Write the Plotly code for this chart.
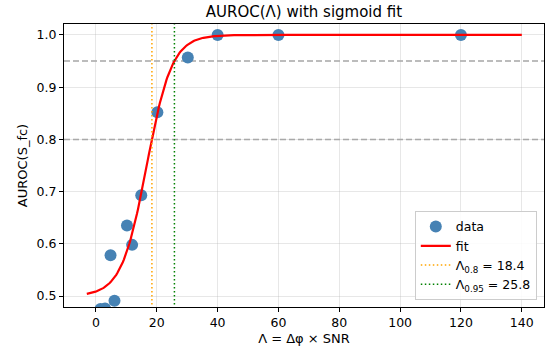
import numpy as np
import plotly.graph_objects as go

# Data
lam = [1.5, 3.0, 4.8, 6.1, 10.2, 11.9, 14.9, 20.2, 30.2, 40.0, 60.0, 120.0]
auroc = [0.475, 0.476, 0.578, 0.491, 0.635, 0.598, 0.693, 0.852, 0.957, 1.0, 1.0, 1.0]

# Sigmoid fit parameters (estimated from the drawn curve)
fit_floor = 0.5
fit_x0 = 16.7
fit_k = 0.242
fit_xmin, fit_xmax = -3.0, 140.0

lam_08 = 18.4
lam_095 = 25.8
hlines = [0.8, 0.95]

x_ticks = [0, 20, 40, 60, 80, 100, 120, 140]
y_ticks = [0.5, 0.6, 0.7, 0.8, 0.9, 1.0]

xf = np.linspace(fit_xmin, fit_xmax, 400)
yf = fit_floor + (1 - fit_floor) / (1 + np.exp(-fit_k * (xf - fit_x0)))

FONT = "DejaVu Sans"
fig = go.Figure()

for h in hlines:
    fig.add_hline(y=h, line=dict(color="rgba(128,128,128,0.7)", width=1.5, dash="6px,3px"), layer="below")

fig.add_trace(go.Scatter(x=lam, y=auroc, mode="markers", name="data",
                         marker=dict(color="#4682B4", size=12, line=dict(width=0))))
fig.add_trace(go.Scatter(x=xf, y=yf, mode="lines", name="fit",
                         line=dict(color="red", width=2.2)))
fig.add_trace(go.Scatter(x=[lam_08, lam_08], y=[0.3, 1.2], mode="lines",
                         name="Λ<sub>0.8</sub> = %.1f" % lam_08,
                         line=dict(color="orange", width=1.5, dash="1.5px,2.5px")))
fig.add_trace(go.Scatter(x=[lam_095, lam_095], y=[0.3, 1.2], mode="lines",
                         name="Λ<sub>0.95</sub> = %.1f" % lam_095,
                         line=dict(color="green", width=1.5, dash="1.5px,2.5px")))

fig.update_layout(
    width=551, height=349,
    margin=dict(l=64, r=7, t=24, b=42),
    paper_bgcolor="white", plot_bgcolor="white",
    font=dict(family=FONT, size=12, color="black"),
    title=dict(text="AUROC(Λ) with sigmoid fit", x=0.5, xanchor="center",
               xref="paper", y=0.965, yanchor="middle",
               font=dict(family=FONT, size=15, color="black")),
    legend=dict(x=0.985, y=0.025, xanchor="right", yanchor="bottom",
                bgcolor="rgba(255,255,255,0.85)", bordercolor="#cccccc",
                borderwidth=1, font=dict(family=FONT, size=12.5),
                itemwidth=30, tracegroupgap=0),
    showlegend=True,
)
fig.update_xaxes(range=[-10.5, 147.3], tickvals=x_ticks, showgrid=True,
                 gridcolor="rgba(176,176,176,0.3)", gridwidth=1,
                 showline=True, linecolor="black", linewidth=1, mirror=True,
                 ticks="outside", ticklen=4, tickcolor="black", zeroline=False,
                 title=dict(text="Λ = Δφ × SNR", standoff=4,
                            font=dict(family=FONT, size=13)),
                 tickfont=dict(size=12.5))
fig.update_yaxes(range=[0.479, 1.021], tickvals=y_ticks, tickformat=".1f", showgrid=True,
                 gridcolor="rgba(176,176,176,0.3)", gridwidth=1,
                 showline=True, linecolor="black", linewidth=1, mirror=True,
                 ticks="outside", ticklen=4, tickcolor="black", zeroline=False,
                 title=dict(text="AUROC(S_fc)", standoff=6,
                            font=dict(family=FONT, size=13)),
                 tickfont=dict(size=12.5))

fig.write_html("out.html")
